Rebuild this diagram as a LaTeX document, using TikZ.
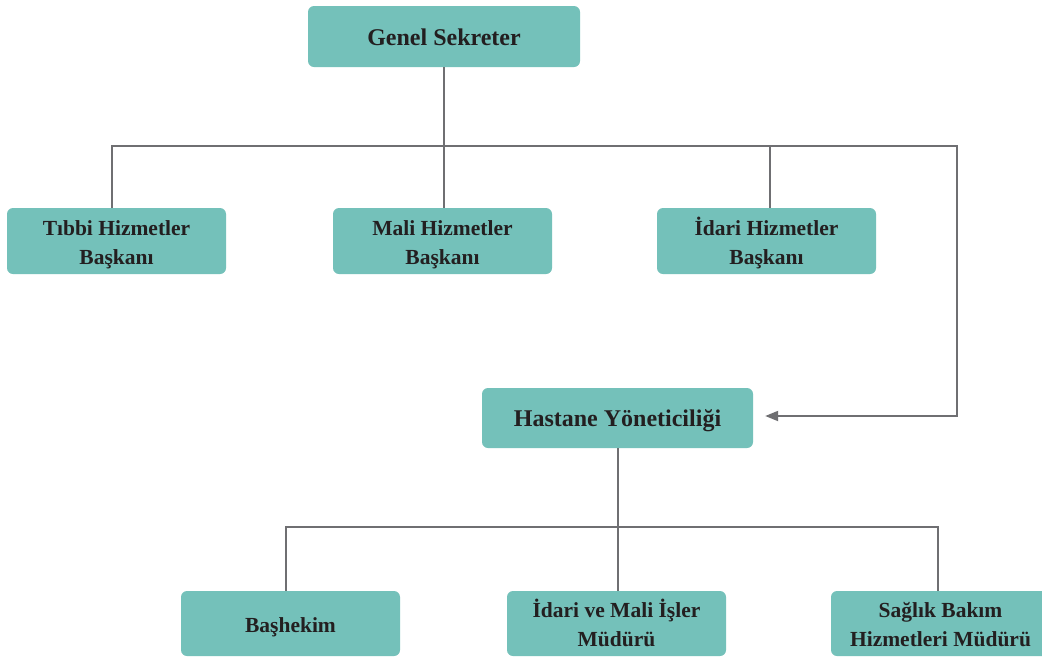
\documentclass[tikz,border=0pt]{standalone}
\usepackage{fontspec}
\setmainfont{Liberation Serif}
\usetikzlibrary{arrows.meta}
\definecolor{boxfill}{HTML}{74C1BA}
\definecolor{linegray}{HTML}{6F6F72}
\definecolor{txt}{HTML}{231F20}
\newcommand{\dnbox}[1]{\raisebox{-3pt}[\height][\depth]{\begin{tabular}{@{}c@{}}#1\end{tabular}}}
\begin{document}
\begin{tikzpicture}[x=1pt,y=-1pt,
  box/.style={fill=boxfill, rounded corners=6pt, inner sep=0pt, text=txt,
    font=\bfseries\fontsize{21.5}{29}\selectfont, minimum width=219pt, minimum height=66pt},
  bigbox/.style={box, font=\bfseries\fontsize{24}{28}\selectfont},
  conn/.style={draw=linegray, line width=2pt}]
\useasboundingbox (0,0) rectangle (1042,657);
\fill[white] (0,0) rectangle (1042,657);
\begin{scope}
\clip (0,0) rectangle (1042,657);
\node[bigbox, minimum width=272pt, minimum height=61pt] (gs) at (444,36.5) {\dnbox{Genel Sekreter}};
\node[box] (tibbi) at (116.5,241) {\dnbox{Tıbbi Hizmetler\\Başkanı}};
\node[box] (mali) at (442.5,241) {\dnbox{Mali Hizmetler\\Başkanı}};
\node[box] (idari) at (766.5,241) {\dnbox{İdari Hizmetler\\Başkanı}};
\node[bigbox, minimum width=271pt, minimum height=60pt] (hast) at (617.5,418) {\dnbox{Hastane Yöneticiliği}};
\node[box, minimum height=65pt] (bash) at (290.5,623.5) {\dnbox{Başhekim}};
\node[box, minimum height=65pt] (idmali) at (616.5,623.5) {\dnbox{İdari ve Mali İşler\\Müdürü}};
\node[box, minimum height=65pt] (saglik) at (940.5,623.5) {\dnbox{Sağlık Bakım\\Hizmetleri Müdürü}};

\coordinate (busA) at (444,146);
\coordinate (corner) at (957,146);
\coordinate (busB) at (618,527);

\draw[conn] (gs.south) -- (gs.south |- mali.north);
\draw[conn, -{Triangle[length=13pt,width=10pt]}] ([xshift=-4.5pt]tibbi.north) |- (corner) |- ([xshift=12pt,yshift=2pt]hast.east);
\draw[conn] ([xshift=3.5pt]idari.north) -- ([xshift=3.5pt]idari.north |- busA);
\draw[conn] (hast.south) -- (hast.south |- idmali.north);
\draw[conn] ([xshift=-4.5pt]bash.north) |- (busB) -| ([xshift=-2.5pt]saglik.north);
\end{scope}
\end{tikzpicture}
\end{document}
